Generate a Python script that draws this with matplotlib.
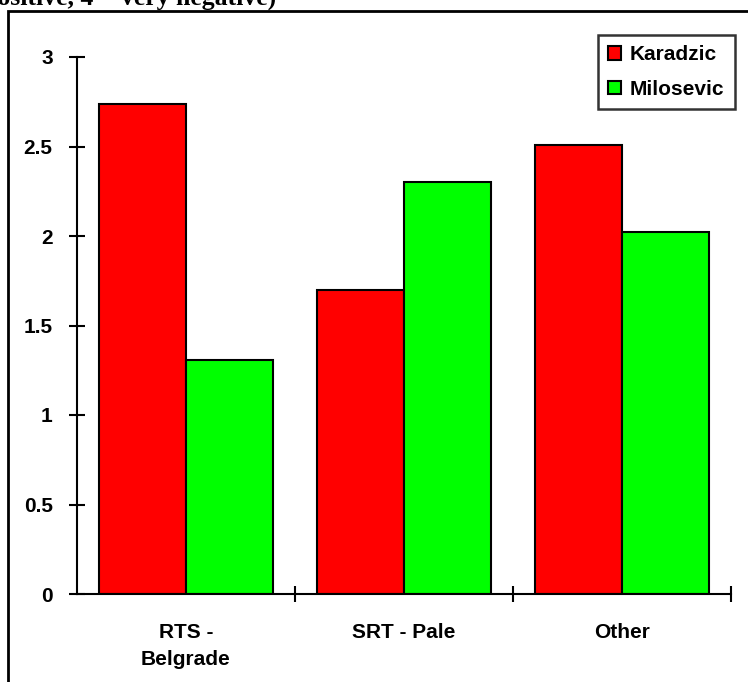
import matplotlib
matplotlib.use('Agg')
import matplotlib.pyplot as plt
from matplotlib.patches import Rectangle
import numpy as np

# mean ratings by source
categories = ['RTS -\nBelgrade', 'SRT - Pale', 'Other']
karadzic = [2.74, 1.70, 2.51]
milosevic = [1.31, 2.30, 2.02]
yticks = [0, 0.5, 1, 1.5, 2, 2.5, 3]
ytick_labels = ['0', '0.5', '1', '1.5', '2', '2.5', '3']

plt.rcParams['font.family'] = ['Liberation Sans', 'DejaVu Sans']
plt.rcParams['font.weight'] = 'bold'

fig = plt.figure(figsize=(7.48, 6.82), dpi=100)

# heading, cut off at the top edge
fig.text(276/748, 1 - 4.5/682, 'positive, 4 = very negative)', fontsize=18.5, fontweight='bold',
         family=['Liberation Serif', 'DejaVu Serif'], ha='right', va='baseline')

# outer frame
fig.patches.append(Rectangle((8/748, -0.05), 1.0, 1 - 11/682 + 0.05,
                             transform=fig.transFigure, fill=False,
                             edgecolor='black', linewidth=2.0))

ax = fig.add_axes([77/748, 1 - 594/682, (731 - 77)/748, (594 - 57)/682])

x = np.arange(len(categories))
w = 0.4
ax.bar(x - w/2, karadzic, w, color='#ff0000', edgecolor='black', linewidth=1.5, label='Karadzic')
ax.bar(x + w/2, milosevic, w, color='#00ff00', edgecolor='black', linewidth=1.5, label='Milosevic')

ax.set_xlim(-0.5, 2.5)
ax.set_ylim(0, 3)
ax.set_yticks(yticks)
ax.set_yticklabels(ytick_labels, fontsize=15, fontweight='bold')
ax.set_xticks([0.5, 1.5, 2.5])
ax.set_xticklabels([])
ax.set_xticks(x, minor=True)
ax.set_xticklabels(categories, minor=True, fontsize=15, fontweight='bold', linespacing=1.5)
ax.tick_params(axis='x', which='minor', length=0, pad=21)
ax.tick_params(axis='both', which='major', direction='inout', length=11, width=1.5)
ax.tick_params(axis='y', pad=12)

for s in ['top', 'right']:
    ax.spines[s].set_visible(False)
for s in ['left', 'bottom']:
    ax.spines[s].set_linewidth(1.5)

leg = ax.legend(loc='upper right', bbox_to_anchor=((735 - 77)/654, (594 - 35)/537), fontsize=15,
                frameon=True, fancybox=False, edgecolor='black',
                handlelength=0.6, handleheight=0.6, handletextpad=0.45,
                borderpad=0.5, labelspacing=0.75, borderaxespad=0)
leg.get_frame().set_linewidth(1.8)

fig.savefig('out.png', dpi=100)
